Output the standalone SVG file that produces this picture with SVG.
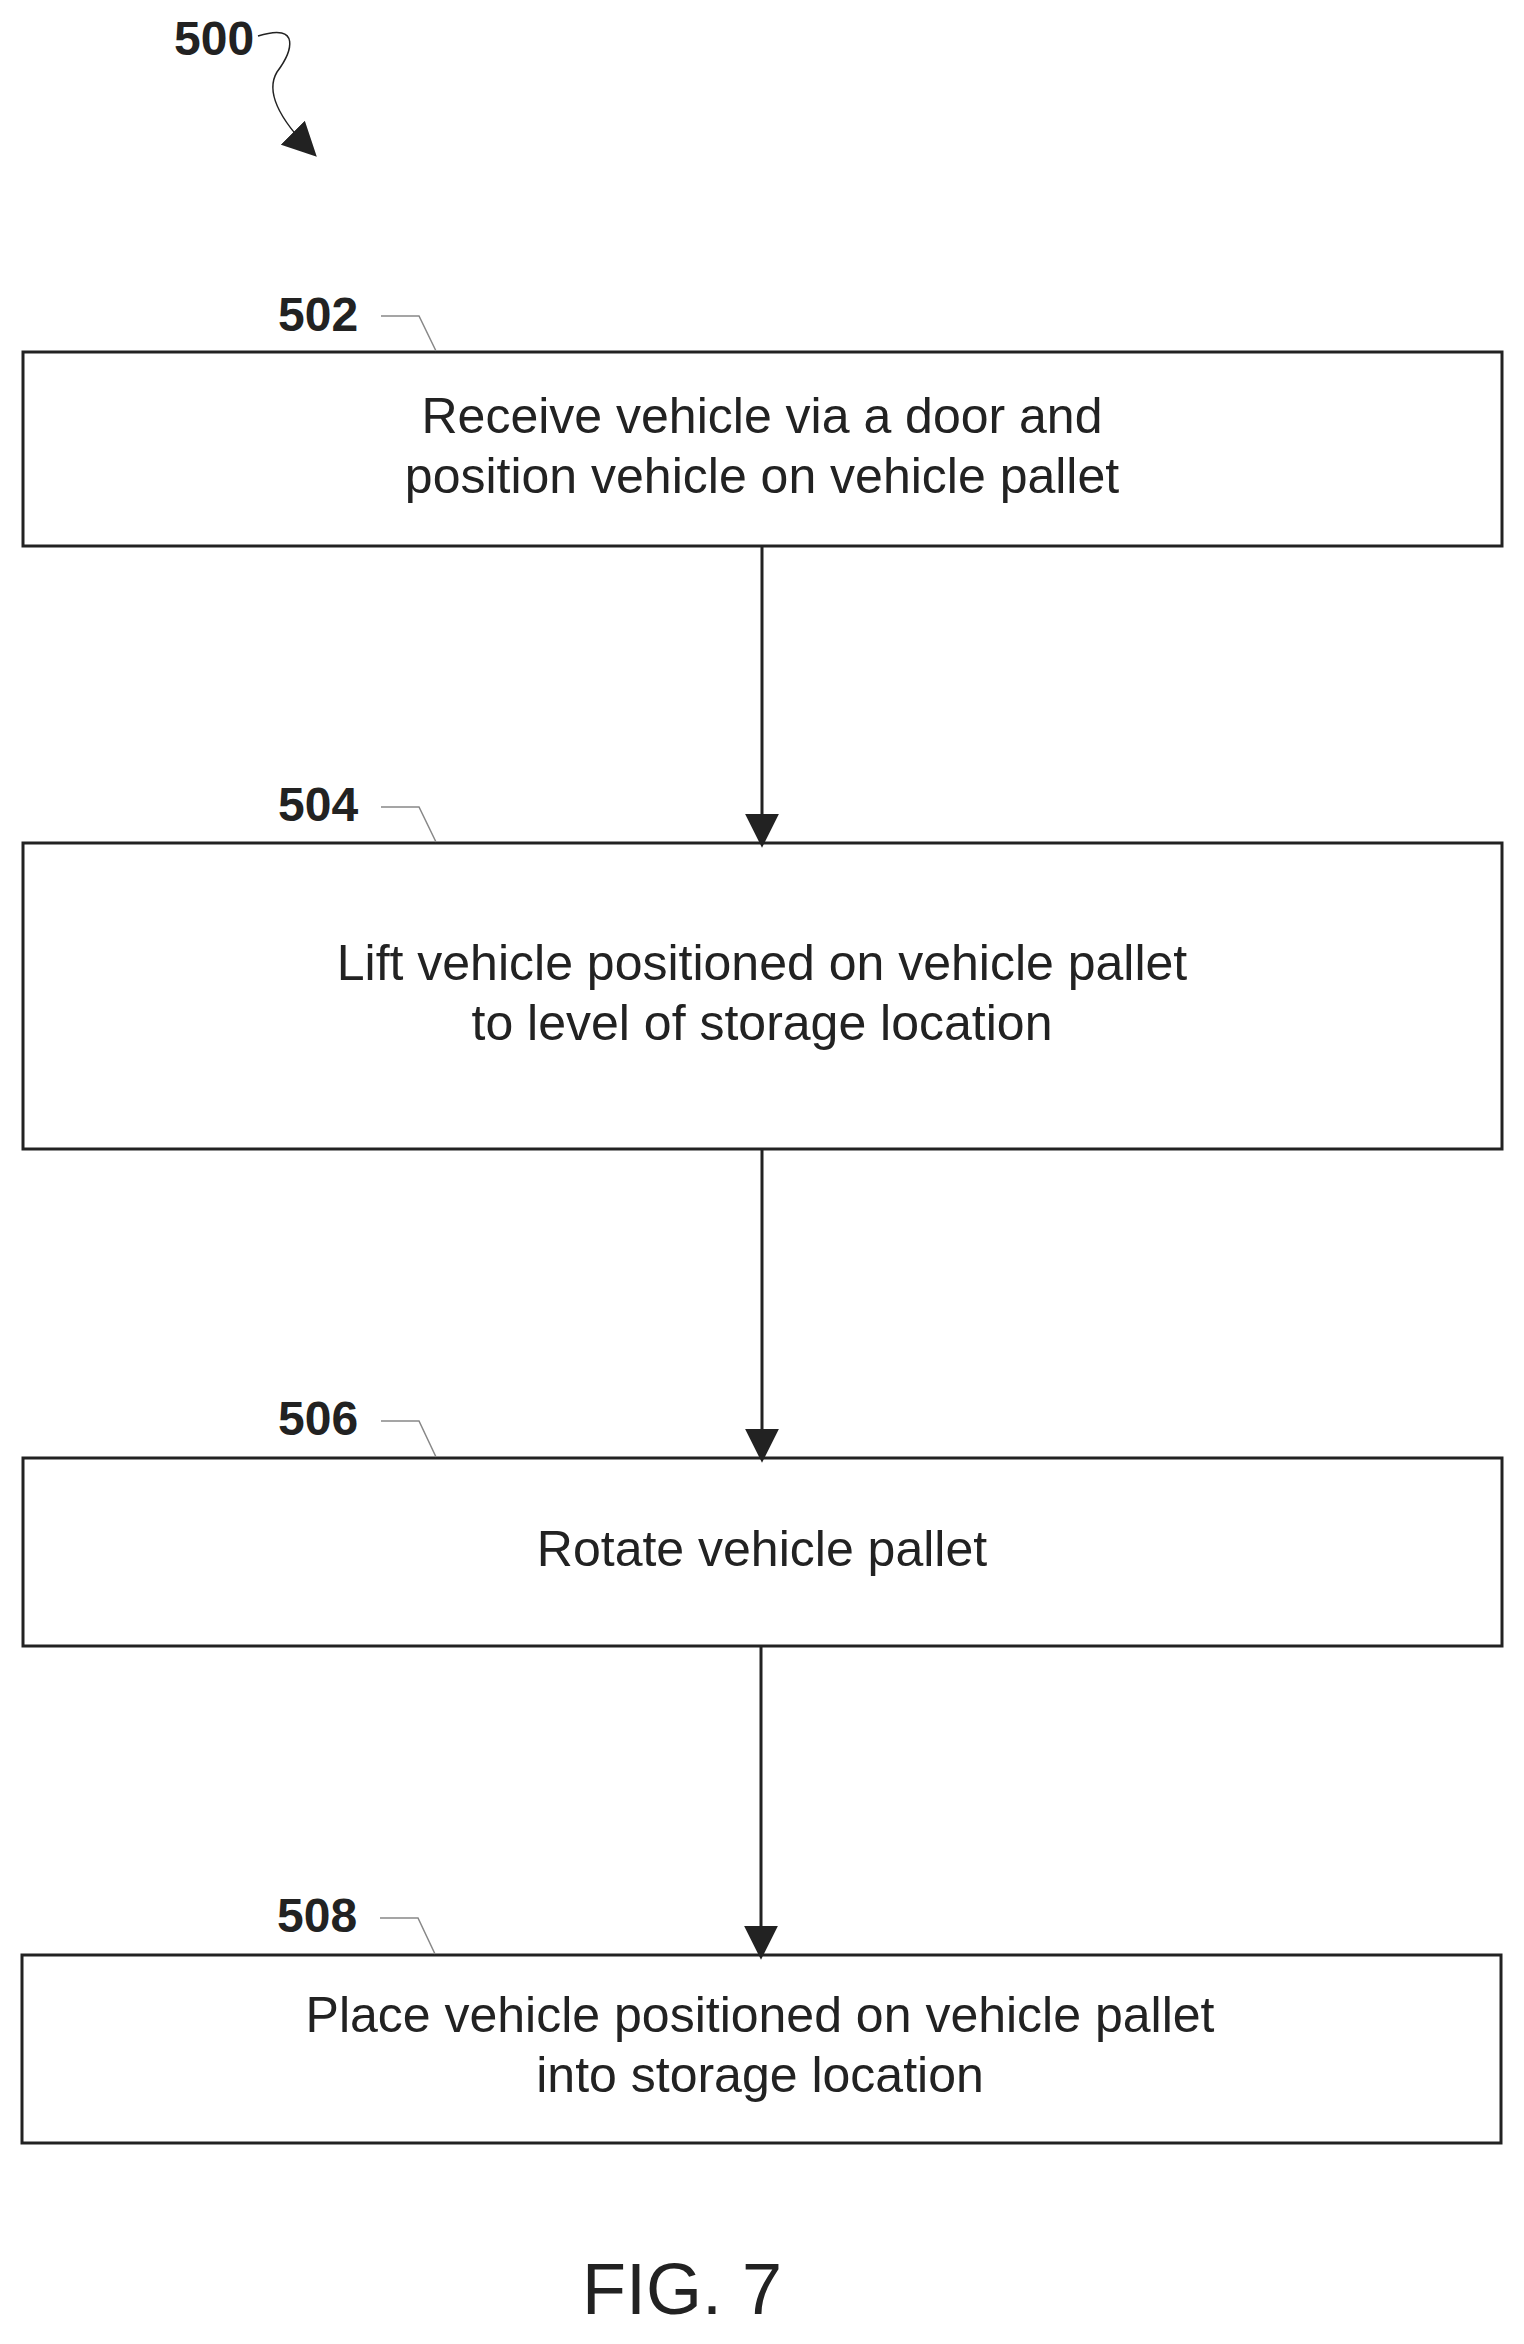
<svg xmlns="http://www.w3.org/2000/svg" width="1524" height="2344" viewBox="0 0 1524 2344">
<style>
.box{fill:#fff;stroke:#222;stroke-width:3}
.t{font-family:Arial,"Liberation Sans",sans-serif;font-size:50px;fill:#222;text-anchor:middle}
.lb{font-family:Arial,"Liberation Sans",sans-serif;font-size:48px;font-weight:bold;fill:#222}
.ld{fill:none;stroke:#888;stroke-width:1.5}
.c{stroke:#222;stroke-width:3;fill:none}
</style>
<defs>
<marker id="b" viewBox="0 0 10 10" refX="8" refY="5" markerWidth="34" markerHeight="34" orient="auto" markerUnits="userSpaceOnUse"><path d="M0,0 L10,5 L0,10 z" fill="#222"/></marker></defs>
<g id="n500"><text class="lb" x="174" y="55">500</text><path class="c" style="stroke-width:1.5" d="M258,36 C302,22 292,52 277,72 C262,97 292,132 312,152" marker-end="url(#b)"/></g>
<g id="n502"><rect class="box" x="23" y="352" width="1479" height="194"/><text class="lb" x="278" y="331">502</text><path class="ld" d="M381,316 L419,316 L436,351"/><text class="t" x="762" y="433">Receive vehicle via a door and</text><text class="t" x="762" y="493">position vehicle on vehicle pallet</text></g>
<g id="n504"><rect class="box" x="23" y="843" width="1479" height="306"/><text class="lb" x="278" y="821">504</text><path class="ld" d="M381,807 L419,807 L436,842"/><text class="t" x="762" y="980">Lift vehicle positioned on vehicle pallet</text><text class="t" x="762" y="1040">to level of storage location</text></g>
<g id="n506"><rect class="box" x="23" y="1458" width="1479" height="188"/><text class="lb" x="278" y="1435">506</text><path class="ld" d="M381,1421 L419,1421 L436,1457"/><text class="t" x="762" y="1566">Rotate vehicle pallet</text></g>
<g id="n508"><rect class="box" x="22" y="1955" width="1479" height="188"/><text class="lb" x="277" y="1932">508</text><path class="ld" d="M380,1918 L418,1918 L435,1954"/><text class="t" x="760" y="2032">Place vehicle positioned on vehicle pallet</text><text class="t" x="760" y="2092">into storage location</text></g>
<g id="connectors">
<line class="c" x1="762" y1="547" x2="762" y2="841" marker-end="url(#b)"/>
<line class="c" x1="762" y1="1150" x2="762" y2="1456" marker-end="url(#b)"/>
<line class="c" x1="761" y1="1647" x2="761" y2="1953" marker-end="url(#b)"/>
</g>
<text x="682" y="2314" style="font-family:Arial,'Liberation Sans',sans-serif;font-size:72px;fill:#222;text-anchor:middle">FIG. 7</text>
</svg>
